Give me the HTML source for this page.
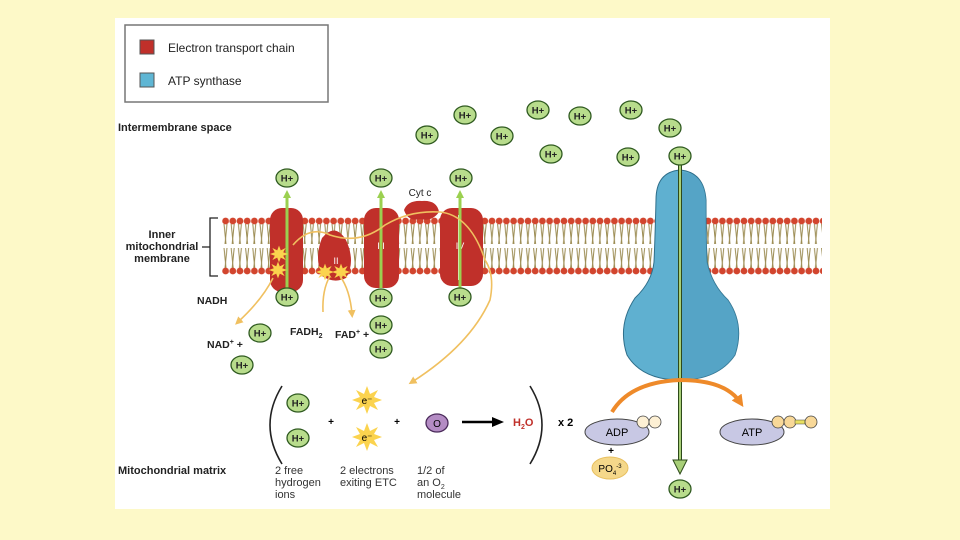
<!DOCTYPE html>
<html><head><style>
body{margin:0;background:#fdf9c8;}
svg{display:block;font-family:"Liberation Sans",sans-serif;}
</style></head><body>
<svg width="960" height="540" viewBox="0 0 960 540">
<defs>
<pattern id="heads" x="222" y="0" width="7.2" height="540" patternUnits="userSpaceOnUse">
<line x1="2" y1="224" x2="4" y2="244" stroke="#9a8a50" stroke-width="1"/>
<line x1="5" y1="224" x2="3" y2="244" stroke="#9a8a50" stroke-width="1"/>
<line x1="2" y1="248" x2="4" y2="268" stroke="#9a8a50" stroke-width="1"/>
<line x1="5" y1="248" x2="3" y2="268" stroke="#9a8a50" stroke-width="1"/>
<circle cx="3.6" cy="221" r="3.4" fill="#d2452e"/>
<circle cx="3.6" cy="271" r="3.4" fill="#d2452e"/>
</pattern>
<marker id="ga" markerWidth="8" markerHeight="8" refX="4" refY="4" orient="auto" markerUnits="userSpaceOnUse"><path d="M0,0L8,4L0,8z" fill="#9bd050"/></marker>
<marker id="ya" markerWidth="8" markerHeight="8" refX="4" refY="4" orient="auto" markerUnits="userSpaceOnUse"><path d="M0,0L8,4L0,8z" fill="#f0c060"/></marker>
<marker id="oa" markerWidth="12" markerHeight="12" refX="6" refY="6" orient="auto" markerUnits="userSpaceOnUse"><path d="M0,0L12,6L0,12z" fill="#ee8a2a"/></marker>
<marker id="ka" markerWidth="12" markerHeight="10" refX="8" refY="5" orient="auto" markerUnits="userSpaceOnUse"><path d="M0,0L12,5L0,10z" fill="#000"/></marker>
<g id="hp"><ellipse cx="0" cy="0" rx="11" ry="9" fill="#b8dc8c" stroke="#2f5a20" stroke-width="1.3"/><text x="0" y="3.5" font-size="9.5" font-weight="bold" text-anchor="middle" fill="#222">H+</text></g>
<g id="star"><polygon points="0,-14 3,-6 11,-10 7,-3 15,0 7,3 11,10 3,6 0,14 -3,6 -11,10 -7,3 -15,0 -7,-3 -11,-10 -3,-6" fill="#fbd34e"/></g>
</defs>
<rect x="115" y="18" width="715" height="491" fill="#fff"/>
<rect x="125" y="25" width="203" height="77" fill="#fff" stroke="#777" stroke-width="1.5"/>
<rect x="140" y="40" width="14" height="14" fill="#c0302a" stroke="#555"/>
<text x="168" y="52" font-size="12" fill="#222">Electron transport chain</text>
<rect x="140" y="73" width="14" height="14" fill="#5fb6d4" stroke="#555"/>
<text x="168" y="85" font-size="12" fill="#222">ATP synthase</text>
<text x="118" y="131" font-size="11" font-weight="bold" fill="#222">Intermembrane space</text>
<text x="162" y="238" font-size="11" font-weight="bold" text-anchor="middle" fill="#222">Inner</text>
<text x="162" y="250" font-size="11" font-weight="bold" text-anchor="middle" fill="#222">mitochondrial</text>
<text x="162" y="262" font-size="11" font-weight="bold" text-anchor="middle" fill="#222">membrane</text>
<path d="M218,218H210V276H218M202,247H210" stroke="#222" stroke-width="1.3" fill="none"/>
<rect x="222" y="216" width="600" height="60" fill="url(#heads)"/>
<!-- ATP synthase -->
<path d="M656,200 Q656,172 680,170 Q704,172 706,200 Q706,240 707,262 Q712,285 728,300 Q745,325 735,355 Q718,380 680,380 Q642,380 627,355 Q617,325 635,298 Q652,282 654,262 Q655,240 656,200Z" fill="#5fb0d0" stroke="#2e6e8a" stroke-width="1"/>
<path d="M680,172 Q704,172 706,200 Q706,240 707,262 Q712,285 728,300 Q745,325 735,355 Q718,380 680,380Z" fill="#4f9cc0" opacity="0.6"/>
<line x1="680" y1="165" x2="680" y2="462" stroke="#2d4a1a" stroke-width="4"/>
<line x1="680" y1="165" x2="680" y2="462" stroke="#a8cf78" stroke-width="2"/>
<path d="M673,460L680,474L687,460z" fill="#a8cf78" stroke="#2d4a1a"/>
<!-- complexes -->
<rect x="270" y="208" width="33" height="84" rx="12" fill="#c0302a"/>
<path d="M322,238 Q335,222 346,240 Q356,262 346,278 Q334,284 322,276 Q314,258 322,238Z" fill="#c0302a"/>
<rect x="364" y="208" width="35" height="80" rx="12" fill="#c0302a"/>
<path d="M404,210 Q408,200 422,201 Q437,200 439,212 Q432,222 420,219 Q408,222 404,210Z" fill="#c0302a"/>
<rect x="440" y="208" width="43" height="78" rx="12" fill="#c0302a"/>
<line x1="459" y1="215" x2="459" y2="280" stroke="#fff" stroke-width="2"/>
<text x="287" y="239" font-size="9" fill="#fff" text-anchor="middle">I</text>
<text x="336" y="264" font-size="9" fill="#fff" text-anchor="middle">II</text>
<text x="381" y="249" font-size="9" fill="#fff" text-anchor="middle">III</text>
<text x="460" y="249" font-size="9" fill="#fff" text-anchor="middle">IV</text>
<text x="420" y="196" font-size="10" fill="#222" text-anchor="middle">Cyt c</text>
<g stroke="#9bd050" stroke-width="3">
<line x1="287" y1="288" x2="287" y2="194" marker-end="url(#ga)"/>
<line x1="381" y1="288" x2="381" y2="194" marker-end="url(#ga)"/>
<line x1="460" y1="288" x2="460" y2="194" marker-end="url(#ga)"/>
</g>
<use href="#star" transform="translate(279,254) scale(0.6)"/>
<use href="#star" transform="translate(278,270) scale(0.6)"/>
<use href="#star" transform="translate(325,272) scale(0.6)"/>
<use href="#star" transform="translate(341,272) scale(0.6)"/>
<g stroke="#f0c060" stroke-width="1.6" fill="none">
<path d="M293,245 Q310,225 330,235 Q360,245 385,225 Q410,210 440,212 Q470,215 485,260 Q495,275 490,300 Q470,345 412,382" marker-end="url(#ya)"/>
<path d="M273,278 Q262,300 238,322" marker-end="url(#ya)"/>
<path d="M323,312 Q322,290 330,276"/>
<path d="M340,276 Q350,290 352,314" marker-end="url(#ya)"/>
</g>
<text x="197" y="304" font-size="10.5" font-weight="bold" fill="#222">NADH</text>
<text x="207" y="348" font-size="10.5" font-weight="bold" fill="#222">NAD<tspan font-size="7" dy="-4">+</tspan><tspan dy="4"> +</tspan></text>
<text x="290" y="335" font-size="10.5" font-weight="bold" fill="#222">FADH<tspan font-size="7" dy="3">2</tspan></text>
<text x="335" y="338" font-size="10.5" font-weight="bold" fill="#222">FAD<tspan font-size="7" dy="-4">+</tspan><tspan dy="4"> +</tspan></text>
<use href="#hp" x="287" y="178"/><use href="#hp" x="287" y="297"/>
<use href="#hp" x="381" y="178"/><use href="#hp" x="381" y="298"/><use href="#hp" x="381" y="325"/><use href="#hp" x="381" y="349"/>
<use href="#hp" x="461" y="178"/><use href="#hp" x="460" y="297"/>
<use href="#hp" x="260" y="333"/><use href="#hp" x="242" y="365"/>
<use href="#hp" x="465" y="115"/><use href="#hp" x="538" y="110"/><use href="#hp" x="580" y="116"/><use href="#hp" x="631" y="110"/><use href="#hp" x="670" y="128"/>
<use href="#hp" x="427" y="135"/><use href="#hp" x="502" y="136"/><use href="#hp" x="551" y="154"/><use href="#hp" x="628" y="157"/>
<use href="#hp" x="680" y="156"/><use href="#hp" x="680" y="489"/>
<path d="M282,386 Q258,425 282,464" stroke="#222" stroke-width="1.6" fill="none"/>
<path d="M530,386 Q554,425 530,464" stroke="#222" stroke-width="1.6" fill="none"/>
<use href="#hp" x="298" y="403"/><use href="#hp" x="298" y="438"/>
<text x="331" y="425" font-size="10" font-weight="bold" text-anchor="middle">+</text>
<use href="#star" transform="translate(367,400)"/><use href="#star" transform="translate(367,437)"/>
<text x="367" y="404" font-size="10" text-anchor="middle">e⁻</text>
<text x="367" y="441" font-size="10" text-anchor="middle">e⁻</text>
<text x="397" y="425" font-size="10" font-weight="bold" text-anchor="middle">+</text>
<ellipse cx="437" cy="423" rx="11" ry="9" fill="#b48cc4" stroke="#4a2a5a" stroke-width="1.3"/>
<text x="437" y="427" font-size="10" text-anchor="middle">O</text>
<line x1="462" y1="422" x2="500" y2="422" stroke="#000" stroke-width="2.5" marker-end="url(#ka)"/>
<text x="513" y="426" font-size="11" fill="#c0302a" font-weight="bold">H<tspan font-size="7" dy="3">2</tspan><tspan dy="-3">O</tspan></text>
<text x="558" y="426" font-size="11" font-weight="bold">x 2</text>
<text x="118" y="474" font-size="11" font-weight="bold" fill="#222">Mitochondrial matrix</text>
<g font-size="11" fill="#333">
<text x="275" y="474">2 free</text><text x="275" y="486">hydrogen</text><text x="275" y="498">ions</text>
<text x="340" y="474">2 electrons</text><text x="340" y="486">exiting ETC</text>
<text x="417" y="474">1/2 of</text><text x="417" y="486">an O<tspan font-size="7" dy="3">2</tspan></text><text x="417" y="498">molecule</text>
</g>
<path d="M612,412 Q630,382 680,380 Q725,380 740,402" stroke="#ee8a2a" stroke-width="4" fill="none" marker-end="url(#oa)"/>
<ellipse cx="617" cy="432" rx="32" ry="13" fill="#c8c8e4" stroke="#444" stroke-width="1"/>
<text x="617" y="436" font-size="11" text-anchor="middle">ADP</text>
<circle cx="643" cy="422" r="6" fill="#fdf0d4" stroke="#444" stroke-width="0.8"/>
<circle cx="655" cy="422" r="6" fill="#fdf0d4" stroke="#444" stroke-width="0.8"/>
<text x="611" y="454" font-size="10" font-weight="bold" text-anchor="middle">+</text>
<ellipse cx="610" cy="468" rx="18" ry="11" fill="#f5d88a" stroke="#e8c060"/>
<text x="610" y="472" font-size="10" text-anchor="middle">PO<tspan font-size="6" dy="3">4</tspan><tspan font-size="6" dy="-7">-3</tspan></text>
<ellipse cx="752" cy="432" rx="32" ry="13" fill="#c8c8e4" stroke="#444" stroke-width="1"/>
<text x="752" y="436" font-size="11" text-anchor="middle">ATP</text>
<circle cx="778" cy="422" r="6" fill="#f8d898" stroke="#444" stroke-width="0.8"/>
<circle cx="790" cy="422" r="6" fill="#f8d898" stroke="#444" stroke-width="0.8"/>
<rect x="795" y="420" width="10" height="4" fill="#e8e060" stroke="#444" stroke-width="0.5"/>
<circle cx="811" cy="422" r="6" fill="#f8d898" stroke="#444" stroke-width="0.8"/>
</svg>
</body></html>
